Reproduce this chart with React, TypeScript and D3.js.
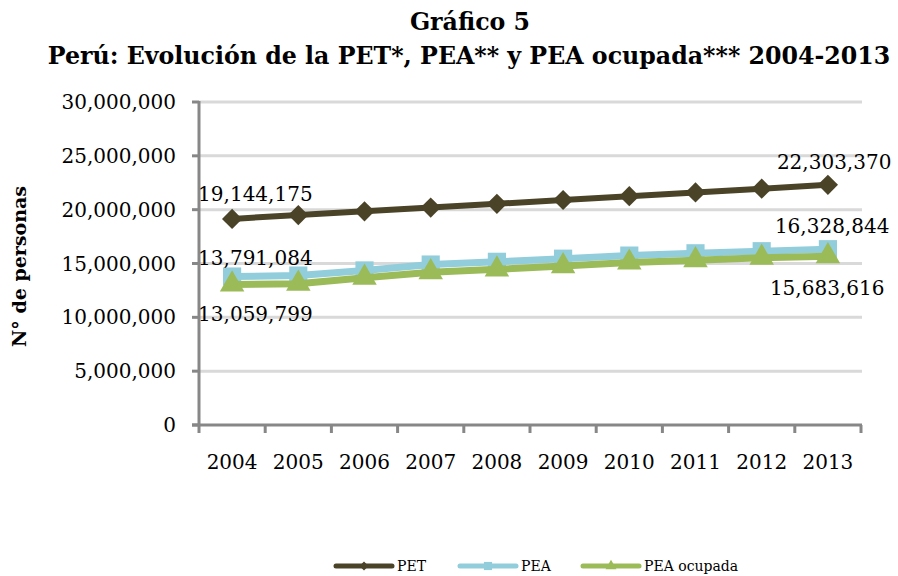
import { useMemo } from "react";
import * as d3 from "d3";

// datos
const years = ["2004", "2005", "2006", "2007", "2008", "2009", "2010", "2011", "2012", "2013"];
const pet = [19144175, 19500000, 19850000, 20193000, 20546000, 20898000, 21249000, 21600000, 21952000, 22303370];
const pea = [13791084, 13880000, 14356000, 14903000, 15158000, 15448000, 15736000, 15949000, 16142000, 16328844];
const peaOcupada = [13059799, 13120000, 13683000, 14197000, 14459000, 14758000, 15090000, 15307000, 15541000, 15683616];
const yTicks = [0, 5000000, 10000000, 15000000, 20000000, 25000000, 30000000];

const W = 898;
const H = 576;
const left = 199;
const right = 861;
const top = 102;
const bottom = 425;
const FONT = "'DejaVu Serif', serif";
const fmt = d3.format(",");

export default function App() {
  const x = useMemo(() => d3.scaleBand().domain(years).range([left, right]), []);
  const y = useMemo(() => d3.scaleLinear().domain([0, 30000000]).range([bottom, top]), []);
  const cx = (i: number) => (x(years[i]) as number) + x.bandwidth() / 2;

  const line = (vals: number[]) =>
    d3.line<number>().x((_, i) => cx(i)).y(d => y(d))(vals) as string;

  const diamond = d3.symbol().type(d3.symbolDiamond2).size(260)() as string;
  const square = d3.symbol().type(d3.symbolSquare).size(330)() as string;
  const triangle = d3.symbol().type(d3.symbolTriangle).size(260)() as string;

  const series = [
    { name: "PET", vals: pet, color: "#4a4328", width: 6, marker: diamond },
    { name: "PEA", vals: pea, color: "#92cddc", width: 7, marker: square },
    { name: "PEA ocupada", vals: peaOcupada, color: "#9bbb59", width: 7, marker: triangle },
  ];

  const last = years.length - 1;
  const labels = [
    { v: pet[0], x: cx(0) - 34, y: y(pet[0]) - 18 },
    { v: pea[0], x: cx(0) - 34, y: y(pea[0]) - 12 },
    { v: peaOcupada[0], x: cx(0) - 34, y: y(peaOcupada[0]) + 37 },
    { v: pet[last], x: cx(last) - 51, y: y(pet[last]) - 16 },
    { v: pea[last], x: cx(last) - 53, y: y(pea[last]) - 16 },
    { v: peaOcupada[last], x: cx(last) - 58, y: y(peaOcupada[last]) + 39 },
  ];

  const legendItems = [
    { s: series[0], x: 336 },
    { s: series[1], x: 460 },
    { s: series[2], x: 583 },
  ];

  return (
    <svg width={W} height={H} style={{ position: "absolute", left: 0, top: 0, background: "#fff" }} fontFamily={FONT}>
      <text x={470} y={30} textAnchor="middle" fontWeight="bold" fontSize={23.7}>Gráfico 5</text>
      <text x={469} y={64} textAnchor="middle" fontWeight="bold" fontSize={23.7}>
        Perú: Evolución de la PET*, PEA** y PEA ocupada*** 2004-2013
      </text>

      {yTicks.slice(1).map(t => (
        <line key={t} x1={left} x2={right + 1} y1={y(t)} y2={y(t)} stroke="#d9d9d9" strokeWidth={3} />
      ))}

      {yTicks.map(t => (
        <g key={t}>
          <line x1={192} x2={left} y1={y(t)} y2={y(t)} stroke="#878787" strokeWidth={3} />
          <text x={176} y={y(t) + 7} textAnchor="end" fontSize={20}>{fmt(t)}</text>
        </g>
      ))}

      <line x1={left} x2={left} y1={top - 1} y2={bottom + 8} stroke="#878787" strokeWidth={3} />
      <line x1={192} x2={right + 1} y1={bottom} y2={bottom} stroke="#878787" strokeWidth={3} />
      {years.map((yr, i) => (
        <g key={yr}>
          <line x1={(x(yr) as number) + x.bandwidth()} x2={(x(yr) as number) + x.bandwidth()} y1={bottom} y2={bottom + 8} stroke="#878787" strokeWidth={3} />
          <text x={cx(i)} y={469} textAnchor="middle" fontSize={20}>{yr}</text>
        </g>
      ))}

      <text transform={`translate(26,${(top + bottom) / 2 + 3}) rotate(-90)`} textAnchor="middle" fontWeight="bold" fontSize={19}>
        N° de personas
      </text>

      {series.map(s => (
        <g key={s.name}>
          <path d={line(s.vals)} fill="none" stroke={s.color} strokeWidth={s.width} strokeLinejoin="round" />
          {s.vals.map((v, i) => (
            <path key={i} d={s.marker} transform={`translate(${cx(i)},${y(v)})`} fill={s.color} />
          ))}
        </g>
      ))}

      {labels.map((l, i) => (
        <text key={i} x={l.x} y={l.y} fontSize={20}>{fmt(l.v)}</text>
      ))}

      {legendItems.map(({ s, x: lx }) => (
        <g key={s.name}>
          <line x1={lx} x2={lx + 56} y1={566} y2={566} stroke={s.color} strokeWidth={5} strokeLinecap="round" />
          <path d={s.marker} transform={`translate(${lx + 28},566) scale(0.45)`} fill={s.color} />
          <text x={lx + 61} y={571} fontSize={14}>{s.name}</text>
        </g>
      ))}
    </svg>
  );
}
